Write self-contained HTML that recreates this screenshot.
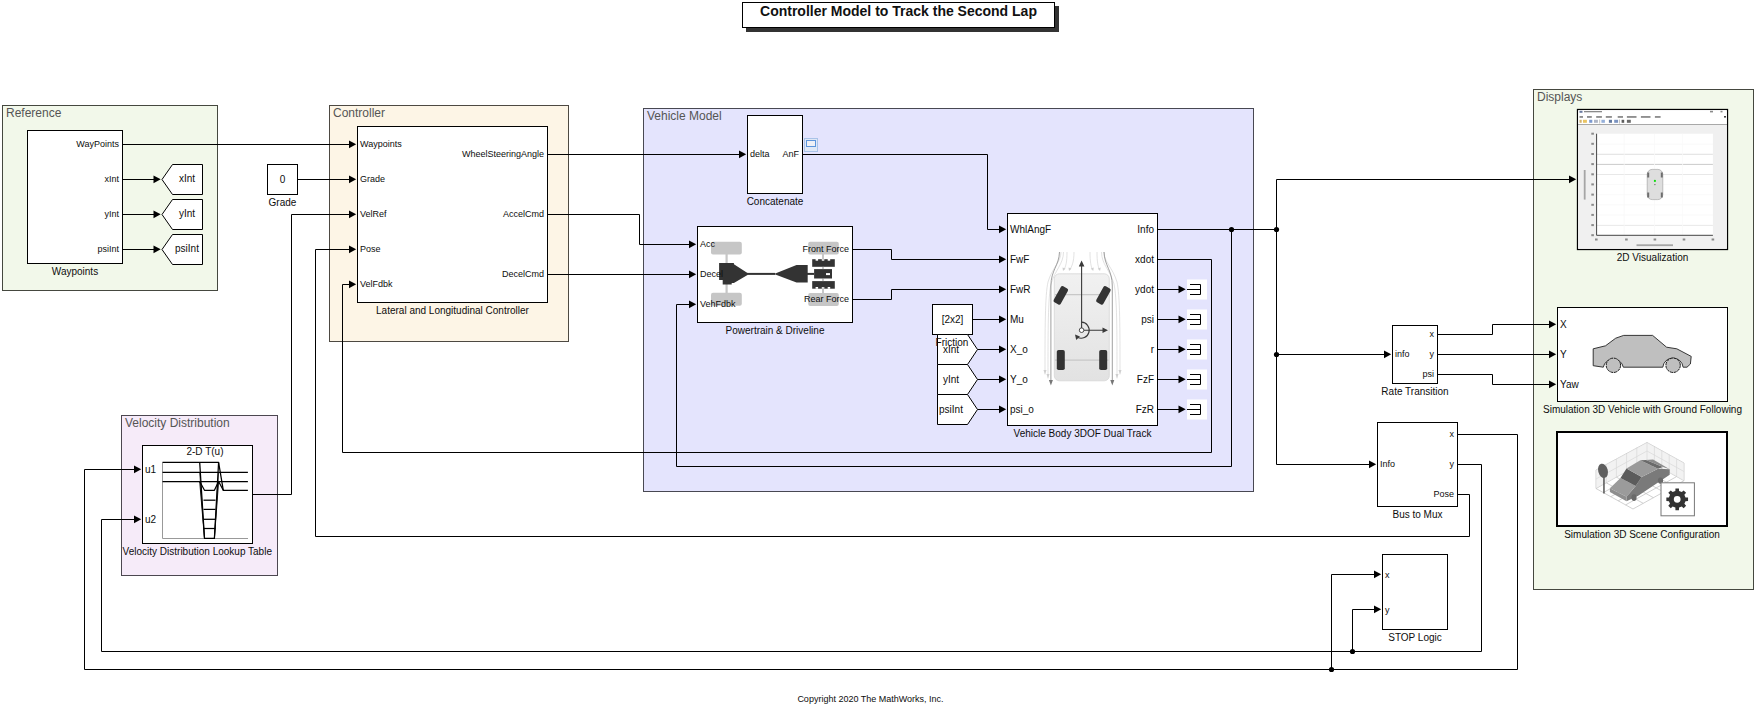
<!DOCTYPE html><html><head><meta charset="utf-8"><style>html,body{margin:0;padding:0;background:#fff;width:1755px;height:707px;overflow:hidden}svg{display:block}text{font-family:"Liberation Sans",sans-serif}</style></head><body>
<svg width="1755" height="707" viewBox="0 0 1755 707">
<rect x="746.5" y="6.5" width="312.0" height="25.0" fill="#333" stroke="#333" stroke-width="1" />
<rect x="742.5" y="2.5" width="312.0" height="25.0" fill="#fff" stroke="#000" stroke-width="1" />
<text x="898.5" y="15.5" font-size="14" text-anchor="middle" fill="#111" font-weight="bold" >Controller Model to Track the Second Lap</text>
<rect x="2.5" y="105.5" width="215.0" height="185.0" fill="#f2f8ea" stroke="#45483f" stroke-width="1" />
<text x="6.0" y="116.7" font-size="12" text-anchor="start" fill="#555" font-weight="normal" >Reference</text>
<rect x="329.5" y="105.5" width="239.0" height="236.0" fill="#fdf5e6" stroke="#4d4942" stroke-width="1" />
<text x="333.0" y="116.7" font-size="12" text-anchor="start" fill="#555" font-weight="normal" >Controller</text>
<rect x="643.5" y="108.5" width="610.0" height="383.0" fill="#e4e4fd" stroke="#484852" stroke-width="1" />
<text x="647.0" y="119.7" font-size="12" text-anchor="start" fill="#555" font-weight="normal" >Vehicle Model</text>
<rect x="1533.5" y="89.5" width="220.0" height="500.0" fill="#f2f8ea" stroke="#45483f" stroke-width="1" />
<text x="1537.0" y="100.7" font-size="12" text-anchor="start" fill="#555" font-weight="normal" >Displays</text>
<rect x="121.5" y="415.5" width="156.0" height="160.0" fill="#f6ebf9" stroke="#4c4750" stroke-width="1" />
<text x="125.0" y="426.7" font-size="12" text-anchor="start" fill="#555" font-weight="normal" >Velocity Distribution</text>
<path d="M122.5 144.5 L349.5 144.5" fill="none" stroke="#000" stroke-width="1"/>
<path d="M356.2 144.3 L349.0 140.4 L349.0 148.2 Z" fill="#000"/>
<path d="M122.5 179.5 L154 179.5" fill="none" stroke="#000" stroke-width="1"/>
<path d="M160.7 179.3 L153.5 175.4 L153.5 183.2 Z" fill="#000"/>
<path d="M122.5 214.5 L154 214.5" fill="none" stroke="#000" stroke-width="1"/>
<path d="M160.7 214.3 L153.5 210.4 L153.5 218.2 Z" fill="#000"/>
<path d="M122.5 249.5 L154 249.5" fill="none" stroke="#000" stroke-width="1"/>
<path d="M160.7 249.3 L153.5 245.4 L153.5 253.2 Z" fill="#000"/>
<path d="M297.5 179.5 L349.5 179.5" fill="none" stroke="#000" stroke-width="1"/>
<path d="M356.2 179.3 L349.0 175.4 L349.0 183.2 Z" fill="#000"/>
<path d="M252.5 494.5 L291.5 494.5 L291.5 214.5 L349.5 214.5" fill="none" stroke="#000" stroke-width="1"/>
<path d="M356.2 214.3 L349.0 210.4 L349.0 218.2 Z" fill="#000"/>
<path d="M1457.5 494.5 L1469.5 494.5 L1469.5 536.5 L315.5 536.5 L315.5 249.5 L349.5 249.5" fill="none" stroke="#000" stroke-width="1"/>
<path d="M356.2 249.3 L349.0 245.4 L349.0 253.2 Z" fill="#000"/>
<path d="M1157.5 259.5 L1211.5 259.5 L1211.5 452.5 L342.5 452.5 L342.5 284.5 L349.5 284.5" fill="none" stroke="#000" stroke-width="1"/>
<path d="M356.2 284.3 L349.0 280.4 L349.0 288.2 Z" fill="#000"/>
<path d="M547.5 154.5 L739.5 154.5" fill="none" stroke="#000" stroke-width="1"/>
<path d="M746.2 154.3 L739.0 150.4 L739.0 158.2 Z" fill="#000"/>
<path d="M547.5 214.5 L639.5 214.5 L639.5 244.5 L689.5 244.5" fill="none" stroke="#000" stroke-width="1"/>
<path d="M696.2 244.3 L689.0 240.4 L689.0 248.2 Z" fill="#000"/>
<path d="M547.5 274.5 L689.5 274.5" fill="none" stroke="#000" stroke-width="1"/>
<path d="M696.2 274.3 L689.0 270.4 L689.0 278.2 Z" fill="#000"/>
<path d="M802.5 154.5 L987.5 154.5 L987.5 229.5 L999.5 229.5" fill="none" stroke="#000" stroke-width="1"/>
<path d="M1006.2 229.3 L999.0 225.4 L999.0 233.2 Z" fill="#000"/>
<path d="M852.5 249.5 L891.5 249.5 L891.5 259.5 L999.5 259.5" fill="none" stroke="#000" stroke-width="1"/>
<path d="M1006.2 259.3 L999.0 255.4 L999.0 263.2 Z" fill="#000"/>
<path d="M852.5 299.5 L891.5 299.5 L891.5 289.5 L999.5 289.5" fill="none" stroke="#000" stroke-width="1"/>
<path d="M1006.2 289.3 L999.0 285.4 L999.0 293.2 Z" fill="#000"/>
<path d="M972.5 319.5 L999.5 319.5" fill="none" stroke="#000" stroke-width="1"/>
<path d="M1006.2 319.3 L999.0 315.4 L999.0 323.2 Z" fill="#000"/>
<path d="M977.5 349.5 L999.5 349.5" fill="none" stroke="#000" stroke-width="1"/>
<path d="M1006.2 349.3 L999.0 345.4 L999.0 353.2 Z" fill="#000"/>
<path d="M977.5 379.5 L999.5 379.5" fill="none" stroke="#000" stroke-width="1"/>
<path d="M1006.2 379.3 L999.0 375.4 L999.0 383.2 Z" fill="#000"/>
<path d="M977.5 409.5 L999.5 409.5" fill="none" stroke="#000" stroke-width="1"/>
<path d="M1006.2 409.3 L999.0 405.4 L999.0 413.2 Z" fill="#000"/>
<path d="M1157.5 289.5 L1179 289.5" fill="none" stroke="#000" stroke-width="1"/>
<path d="M1185.7 289.3 L1178.5 285.4 L1178.5 293.2 Z" fill="#000"/>
<path d="M1157.5 319.5 L1179 319.5" fill="none" stroke="#000" stroke-width="1"/>
<path d="M1185.7 319.3 L1178.5 315.4 L1178.5 323.2 Z" fill="#000"/>
<path d="M1157.5 349.5 L1179 349.5" fill="none" stroke="#000" stroke-width="1"/>
<path d="M1185.7 349.3 L1178.5 345.4 L1178.5 353.2 Z" fill="#000"/>
<path d="M1157.5 379.5 L1179 379.5" fill="none" stroke="#000" stroke-width="1"/>
<path d="M1185.7 379.3 L1178.5 375.4 L1178.5 383.2 Z" fill="#000"/>
<path d="M1157.5 409.5 L1179 409.5" fill="none" stroke="#000" stroke-width="1"/>
<path d="M1185.7 409.3 L1178.5 405.4 L1178.5 413.2 Z" fill="#000"/>
<path d="M1157.5 229.5 L1276.5 229.5" fill="none" stroke="#000" stroke-width="1"/>
<path d="M1276.5 464.5 L1276.5 179.5 L1569.5 179.5" fill="none" stroke="#000" stroke-width="1"/>
<path d="M1576.2 179.3 L1569.0 175.4 L1569.0 183.2 Z" fill="#000"/>
<path d="M1276.5 354.5 L1384.5 354.5" fill="none" stroke="#000" stroke-width="1"/>
<path d="M1391.2 354.3 L1384.0 350.4 L1384.0 358.2 Z" fill="#000"/>
<path d="M1276.5 464.5 L1369.5 464.5" fill="none" stroke="#000" stroke-width="1"/>
<path d="M1376.2 464.3 L1369.0 460.4 L1369.0 468.2 Z" fill="#000"/>
<circle cx="1231.5" cy="229.5" r="2.6" fill="#000"/>
<circle cx="1276.5" cy="229.5" r="2.6" fill="#000"/>
<circle cx="1276.5" cy="354.5" r="2.6" fill="#000"/>
<path d="M1231.5 229.5 L1231.5 466.5 L676.5 466.5 L676.5 304.5 L689.5 304.5" fill="none" stroke="#000" stroke-width="1"/>
<path d="M696.2 304.3 L689.0 300.4 L689.0 308.2 Z" fill="#000"/>
<path d="M1437.5 334.5 L1492.5 334.5 L1492.5 324.5 L1549.5 324.5" fill="none" stroke="#000" stroke-width="1"/>
<path d="M1556.2 324.3 L1549.0 320.4 L1549.0 328.2 Z" fill="#000"/>
<path d="M1437.5 354.5 L1549.5 354.5" fill="none" stroke="#000" stroke-width="1"/>
<path d="M1556.2 354.3 L1549.0 350.4 L1549.0 358.2 Z" fill="#000"/>
<path d="M1437.5 374.5 L1492.5 374.5 L1492.5 384.5 L1549.5 384.5" fill="none" stroke="#000" stroke-width="1"/>
<path d="M1556.2 384.3 L1549.0 380.4 L1549.0 388.2 Z" fill="#000"/>
<path d="M1457.5 434.5 L1517.5 434.5 L1517.5 669.5 L84.5 669.5 L84.5 469.5 L134.5 469.5" fill="none" stroke="#000" stroke-width="1"/>
<path d="M141.2 469.3 L134.0 465.4 L134.0 473.2 Z" fill="#000"/>
<path d="M1331.5 669.5 L1331.5 574.5 L1374.5 574.5" fill="none" stroke="#000" stroke-width="1"/>
<path d="M1381.2 574.3 L1374.0 570.4 L1374.0 578.2 Z" fill="#000"/>
<circle cx="1331.5" cy="669.5" r="2.6" fill="#000"/>
<path d="M1457.5 464.5 L1481.5 464.5 L1481.5 651.5 L101.5 651.5 L101.5 519.5 L134.5 519.5" fill="none" stroke="#000" stroke-width="1"/>
<path d="M141.2 519.3 L134.0 515.4 L134.0 523.2 Z" fill="#000"/>
<path d="M1352.5 651.5 L1352.5 609.5 L1374.5 609.5" fill="none" stroke="#000" stroke-width="1"/>
<path d="M1381.2 609.3 L1374.0 605.4 L1374.0 613.2 Z" fill="#000"/>
<circle cx="1352.5" cy="651.5" r="2.6" fill="#000"/>
<rect x="27.5" y="130.5" width="95.0" height="133.0" fill="#fff" stroke="#000" stroke-width="1" />
<text x="119" y="146.5" font-size="9" text-anchor="end" fill="#0d0d0d" font-weight="normal" >WayPoints</text>
<text x="119" y="181.5" font-size="9" text-anchor="end" fill="#0d0d0d" font-weight="normal" >xInt</text>
<text x="119" y="216.5" font-size="9" text-anchor="end" fill="#0d0d0d" font-weight="normal" >yInt</text>
<text x="119" y="251.5" font-size="9" text-anchor="end" fill="#0d0d0d" font-weight="normal" >psiInt</text>
<text x="75" y="275" font-size="10" text-anchor="middle" fill="#0d0d0d" font-weight="normal" >Waypoints</text>
<path d="M162 179.5 L172.5 164.5 L202.5 164.5 L202.5 194.5 L172.5 194.5 Z" fill="#fff" stroke="#000"/>
<text x="187" y="182.0" font-size="10" text-anchor="middle" fill="#0d0d0d" font-weight="normal" >xInt</text>
<path d="M162 214.5 L172.5 199.5 L202.5 199.5 L202.5 229.5 L172.5 229.5 Z" fill="#fff" stroke="#000"/>
<text x="187" y="217.0" font-size="10" text-anchor="middle" fill="#0d0d0d" font-weight="normal" >yInt</text>
<path d="M162 249.5 L172.5 234.5 L202.5 234.5 L202.5 264.5 L172.5 264.5 Z" fill="#fff" stroke="#000"/>
<text x="187" y="252.0" font-size="10" text-anchor="middle" fill="#0d0d0d" font-weight="normal" >psiInt</text>
<rect x="267.5" y="164.5" width="30.0" height="30.0" fill="#fff" stroke="#000" stroke-width="1" />
<text x="282.5" y="183" font-size="10" text-anchor="middle" fill="#0d0d0d" font-weight="normal" >0</text>
<text x="282.5" y="206" font-size="10" text-anchor="middle" fill="#0d0d0d" font-weight="normal" >Grade</text>
<rect x="357.5" y="126.5" width="190.0" height="176.0" fill="#fff" stroke="#000" stroke-width="1" />
<text x="360" y="146.5" font-size="9" text-anchor="start" fill="#0d0d0d" font-weight="normal" >Waypoints</text>
<text x="360" y="181.5" font-size="9" text-anchor="start" fill="#0d0d0d" font-weight="normal" >Grade</text>
<text x="360" y="216.5" font-size="9" text-anchor="start" fill="#0d0d0d" font-weight="normal" >VelRef</text>
<text x="360" y="251.5" font-size="9" text-anchor="start" fill="#0d0d0d" font-weight="normal" >Pose</text>
<text x="360" y="286.5" font-size="9" text-anchor="start" fill="#0d0d0d" font-weight="normal" >VelFdbk</text>
<text x="544" y="156.5" font-size="9" text-anchor="end" fill="#0d0d0d" font-weight="normal" >WheelSteeringAngle</text>
<text x="544" y="216.5" font-size="9" text-anchor="end" fill="#0d0d0d" font-weight="normal" >AccelCmd</text>
<text x="544" y="276.5" font-size="9" text-anchor="end" fill="#0d0d0d" font-weight="normal" >DecelCmd</text>
<text x="452.5" y="314" font-size="10" text-anchor="middle" fill="#0d0d0d" font-weight="normal" >Lateral and Longitudinal Controller</text>
<rect x="747.5" y="115.5" width="55.0" height="78.0" fill="#fff" stroke="#000" stroke-width="1" />
<text x="750" y="156.5" font-size="9" text-anchor="start" fill="#0d0d0d" font-weight="normal" >delta</text>
<text x="799" y="156.5" font-size="9" text-anchor="end" fill="#0d0d0d" font-weight="normal" >AnF</text>
<text x="775" y="205" font-size="10" text-anchor="middle" fill="#0d0d0d" font-weight="normal" >Concatenate</text>
<rect x="804.5" y="138.5" width="13.0" height="13.0" fill="#dfe8f6" stroke="#a9c3e8" stroke-width="1" />
<rect x="806.5" y="140.5" width="9.0" height="6.0" fill="#eef0f6" stroke="#5d95dc" stroke-width="1" />
<rect x="697.5" y="226.5" width="155.0" height="96.0" fill="#fff" stroke="#000" stroke-width="1" />
<g fill="#c6c6c6">
<rect x="711" y="241.8" width="30.8" height="12.7" rx="2"/>
<rect x="711" y="292.8" width="30.8" height="13" rx="2"/>
<rect x="725.5" y="254" width="2.2" height="39"/>
<rect x="808.2" y="241.8" width="30.6" height="12.7" rx="2"/>
<rect x="808.2" y="293" width="30.6" height="13" rx="2"/>
<rect x="822" y="254" width="2" height="39"/>
</g>
<g fill="#333">
<path d="M719.1 263.1 L733.9 263.1 L733.9 264.3 L747.5 272.9 L747.5 274.9 L733.9 283 L731.7 283 L731.7 284.5 L722.7 284.5 L722.7 279.9 L719.1 279.9 Z"/>
<rect x="747" y="272.9" width="28" height="2"/>
<path d="M774 273.9 L796.5 265 L807.7 265 L807.7 282.5 L796.5 282.5 Z"/>
<rect x="807" y="272.9" width="7" height="2"/>
<rect x="812.2" y="259.2" width="22.6" height="7.6"/>
<rect x="814.1" y="269.1" width="17.9" height="9.4"/>
<rect x="812.2" y="281.1" width="22.6" height="7.6"/>
</g>
<rect x="826" y="273.1" width="4" height="2" fill="#fff"/>
<g fill="#fff"><rect x="815.6" y="259" width="2.5" height="1.7"/><rect x="821.8" y="259" width="2.5" height="1.7"/><rect x="827.7" y="259" width="2.5" height="1.7"/>
<rect x="815.6" y="287" width="2.5" height="1.8"/><rect x="821.8" y="287" width="2.5" height="1.8"/><rect x="827.7" y="287" width="2.5" height="1.8"/></g>
<g fill="#c6c6c6"><rect x="822.4" y="259" width="1.4" height="1.7"/><rect x="822.4" y="287" width="1.4" height="1.8"/><rect x="822.4" y="266.8" width="1.4" height="2.3"/><rect x="822.4" y="278.6" width="1.4" height="2.5"/></g>
<text x="700" y="246.5" font-size="9" text-anchor="start" fill="#0d0d0d" font-weight="normal" >Acc</text>
<text x="700" y="276.5" font-size="9" text-anchor="start" fill="#0d0d0d" font-weight="normal" >Decel</text>
<text x="700" y="306.5" font-size="9" text-anchor="start" fill="#0d0d0d" font-weight="normal" >VehFdbk</text>
<text x="849" y="251.5" font-size="9" text-anchor="end" fill="#0d0d0d" font-weight="normal" >Front Force</text>
<text x="849" y="301.5" font-size="9" text-anchor="end" fill="#0d0d0d" font-weight="normal" >Rear Force</text>
<text x="775" y="334" font-size="10" text-anchor="middle" fill="#0d0d0d" font-weight="normal" >Powertrain &amp; Driveline</text>
<rect x="932.5" y="304.5" width="40.0" height="30.0" fill="#fff" stroke="#000" stroke-width="1" />
<text x="952.5" y="322.5" font-size="10" text-anchor="middle" fill="#0d0d0d" font-weight="normal" >[2x2]</text>
<path d="M937.5 334.5 L967.5 334.5 L977.5 349.5 L967.5 364.5 L937.5 364.5 Z" fill="#fff" stroke="#000"/>
<text x="951" y="353.0" font-size="10" text-anchor="middle" fill="#0d0d0d" font-weight="normal" >xInt</text>
<path d="M937.5 364.5 L967.5 364.5 L977.5 379.5 L967.5 394.5 L937.5 394.5 Z" fill="#fff" stroke="#000"/>
<text x="951" y="383.0" font-size="10" text-anchor="middle" fill="#0d0d0d" font-weight="normal" >yInt</text>
<path d="M937.5 394.5 L967.5 394.5 L977.5 409.5 L967.5 424.5 L937.5 424.5 Z" fill="#fff" stroke="#000"/>
<text x="951" y="413.0" font-size="10" text-anchor="middle" fill="#0d0d0d" font-weight="normal" >psiInt</text>
<text x="952" y="346" font-size="10" text-anchor="middle" fill="#0d0d0d" font-weight="normal" >Friction</text>
<rect x="1007.5" y="213.5" width="150.0" height="212.0" fill="#fff" stroke="#000" stroke-width="1" />
<text x="1010" y="232.5" font-size="10" text-anchor="start" fill="#0d0d0d" font-weight="normal" >WhlAngF</text>
<text x="1010" y="262.5" font-size="10" text-anchor="start" fill="#0d0d0d" font-weight="normal" >FwF</text>
<text x="1010" y="292.5" font-size="10" text-anchor="start" fill="#0d0d0d" font-weight="normal" >FwR</text>
<text x="1010" y="322.5" font-size="10" text-anchor="start" fill="#0d0d0d" font-weight="normal" >Mu</text>
<text x="1010" y="352.5" font-size="10" text-anchor="start" fill="#0d0d0d" font-weight="normal" >X_o</text>
<text x="1010" y="382.5" font-size="10" text-anchor="start" fill="#0d0d0d" font-weight="normal" >Y_o</text>
<text x="1010" y="412.5" font-size="10" text-anchor="start" fill="#0d0d0d" font-weight="normal" >psi_o</text>
<text x="1154" y="232.5" font-size="10" text-anchor="end" fill="#0d0d0d" font-weight="normal" >Info</text>
<text x="1154" y="262.5" font-size="10" text-anchor="end" fill="#0d0d0d" font-weight="normal" >xdot</text>
<text x="1154" y="292.5" font-size="10" text-anchor="end" fill="#0d0d0d" font-weight="normal" >ydot</text>
<text x="1154" y="322.5" font-size="10" text-anchor="end" fill="#0d0d0d" font-weight="normal" >psi</text>
<text x="1154" y="352.5" font-size="10" text-anchor="end" fill="#0d0d0d" font-weight="normal" >r</text>
<text x="1154" y="382.5" font-size="10" text-anchor="end" fill="#0d0d0d" font-weight="normal" >FzF</text>
<text x="1154" y="412.5" font-size="10" text-anchor="end" fill="#0d0d0d" font-weight="normal" >FzR</text>
<text x="1082.5" y="437" font-size="10" text-anchor="middle" fill="#0d0d0d" font-weight="normal" >Vehicle Body 3DOF Dual Track</text>
<defs><linearGradient id="cg" x1="0" y1="0" x2="0" y2="1"><stop offset="0" stop-color="#f1f1f1"/><stop offset="1" stop-color="#e2e2e2"/></linearGradient></defs>
<g>
<g fill="none" stroke="#cfcfcf" stroke-width="0.6">
<path d="M1061 252 C1061 262 1052 268 1048 282 C1045 295 1045 330 1045 372"/>
<path d="M1063.5 252 C1063.5 264 1055 270 1051 284 C1048 298 1048 330 1048 376"/>
<path d="M1104 252 C1104 262 1113 268 1117 282 C1120 295 1120 330 1120 372"/>
<path d="M1101.5 252 C1101.5 264 1110 270 1114 284 C1117 298 1117 330 1117 376"/>
<path d="M1067 252 C1067 262 1066 266 1063.8 270"/>
<path d="M1074 252 C1074 262 1072 266 1069.7 270"/>
<path d="M1090 252 C1090 262 1091 266 1092.5 270"/>
<path d="M1097 252 C1097 262 1098 266 1099.4 270"/>
</g>
<g fill="#cfcfcf"><path d="M1063 271 L1062.5 267.5 L1065.5 268.5 Z"/><path d="M1069 271 L1068.5 267.5 L1071.5 268.5 Z"/><path d="M1093.2 271 L1090.8 268.5 L1093.8 267.5 Z"/><path d="M1100 271 L1097.8 268.5 L1100.8 267.5 Z"/>
<path d="M1045 375 L1043.5 370 L1046.5 370 Z"/><path d="M1048 379 L1046.5 374 L1049.5 374 Z"/><path d="M1120 375 L1118.5 370 L1121.5 370 Z"/><path d="M1117 379 L1115.5 374 L1118.5 374 Z"/></g>
<rect x="1054.3" y="273.8" width="55" height="107" rx="5" fill="url(#cg)" stroke="#d6d6d6" stroke-width="0.8"/>
<path d="M1055 294.6 L1108.5 294.6 M1055 360.2 L1108.5 360.2" stroke="#c8c8c8" stroke-width="1.2"/>
<rect x="1056.8" y="286.3" width="8" height="18.2" rx="1.8" fill="#333" transform="rotate(29 1060.8 295.4)"/>
<rect x="1099.4" y="286.3" width="8" height="18.2" rx="1.8" fill="#333" transform="rotate(29 1103.4 295.4)"/>
<rect x="1056.8" y="350" width="8" height="20" rx="1.8" fill="#333"/>
<rect x="1099.2" y="350" width="8" height="20" rx="1.8" fill="#333"/>
<path d="M1059.5 252 C1059 266 1050.9 270 1050.9 286 L1050.9 383 M1104 252 C1104.5 266 1112.3 270 1112.3 286 L1112.3 383" stroke="#888" stroke-width="0.8" fill="none"/>
<path d="M1048.9 380 L1050.9 385.5 L1052.9 380 Z M1110.3 380 L1112.3 385.5 L1114.3 380 Z" fill="#777"/>
<path d="M1081.6 265 L1081.6 330.2 L1103 330.2" stroke="#3a3a3a" stroke-width="1.1" fill="none"/>
<path d="M1081.6 260.5 L1078.8 266.5 L1084.4 266.5 Z M1108 330.2 L1102.5 327.4 L1102.5 333 Z" fill="#3a3a3a"/>
<path d="M1081.6 322.2 A8 8 0 1 1 1077.5 337.3" stroke="#3a3a3a" stroke-width="1.2" fill="none"/>
<path d="M1075 334.5 L1076.2 340 L1080 336.5 Z" fill="#3a3a3a"/>
<circle cx="1081.6" cy="330.2" r="2.3" stroke="#3a3a3a" stroke-width="0.9" fill="#fff"/>
</g>
<rect x="1187" y="279.5" width="20" height="20" fill="#fff"/>
<path d="M1190 284.5 L1200.5 284.5 L1200.5 294.5 L1190 294.5 M1187 289.5 L1200.5 289.5" stroke="#000" fill="none"/>
<rect x="1187" y="309.5" width="20" height="20" fill="#fff"/>
<path d="M1190 314.5 L1200.5 314.5 L1200.5 324.5 L1190 324.5 M1187 319.5 L1200.5 319.5" stroke="#000" fill="none"/>
<rect x="1187" y="339.5" width="20" height="20" fill="#fff"/>
<path d="M1190 344.5 L1200.5 344.5 L1200.5 354.5 L1190 354.5 M1187 349.5 L1200.5 349.5" stroke="#000" fill="none"/>
<rect x="1187" y="369.5" width="20" height="20" fill="#fff"/>
<path d="M1190 374.5 L1200.5 374.5 L1200.5 384.5 L1190 384.5 M1187 379.5 L1200.5 379.5" stroke="#000" fill="none"/>
<rect x="1187" y="399.5" width="20" height="20" fill="#fff"/>
<path d="M1190 404.5 L1200.5 404.5 L1200.5 414.5 L1190 414.5 M1187 409.5 L1200.5 409.5" stroke="#000" fill="none"/>
<rect x="1577.5" y="109.5" width="150.0" height="140.0" fill="#fff" stroke="#000" stroke-width="1.3" />
<rect x="1578.2" y="110.2" width="148.6" height="14" fill="#fff"/>
<rect x="1578.2" y="124.5" width="148.6" height="124.3" fill="#f0f0f0"/>
<path d="M1578 124.5 L1727 124.5" stroke="#a8a8a8"/>
<g fill="#8a8a8a"><rect x="1579.5" y="110.8" width="3" height="2" fill="#6a7aa0"/><rect x="1584" y="111" width="18" height="1.3"/><rect x="1710" y="110.8" width="3" height="1.6"/><rect x="1720.5" y="110.8" width="2" height="1.6"/></g>
<g fill="#444">
<rect x="1579.5" y="116.2" width="3.5" height="1.5" opacity="0.75"/>
<rect x="1587.0" y="116.2" width="4.8" height="1.5" opacity="0.75"/>
<rect x="1596.2" y="116.2" width="5.7" height="1.5" opacity="0.75"/>
<rect x="1605.8" y="116.2" width="6.1" height="1.5" opacity="0.75"/>
<rect x="1617.7" y="116.2" width="5.3" height="1.5" opacity="0.75"/>
<rect x="1626.9" y="116.2" width="9.6" height="1.5" opacity="0.75"/>
<rect x="1640.9" y="116.2" width="9.6" height="1.5" opacity="0.75"/>
<rect x="1654.9" y="116.2" width="5.7" height="1.5" opacity="0.75"/>
<rect x="1724" y="116" width="2" height="1.6"/>
</g>
<g>
<rect x="1579.5" y="119.8" width="2.2" height="3" fill="#c9a04a" opacity="0.8"/>
<rect x="1583.0" y="119.8" width="3.9" height="3" fill="#e3b53c" opacity="0.8"/>
<rect x="1589.2" y="119.8" width="3.1" height="3" fill="#5b7fc4" opacity="0.8"/>
<rect x="1594.0" y="119.8" width="3.9" height="3" fill="#9aa3b8" opacity="0.8"/>
<rect x="1601.4" y="119.8" width="3.5" height="3" fill="#7b9bd0" opacity="0.8"/>
<rect x="1608.9" y="119.8" width="3.1" height="3" fill="#3d5a8a" opacity="0.8"/>
<rect x="1614.2" y="119.8" width="3.9" height="3" fill="#5a78b0" opacity="0.8"/>
<rect x="1621.6" y="119.8" width="2.6" height="3" fill="#333" opacity="0.8"/>
<rect x="1626.9" y="119.8" width="3.9" height="3" fill="#444" opacity="0.8"/>
<rect x="1599.5" y="119.5" width="0.6" height="4" fill="#999"/><rect x="1619" y="119.5" width="0.6" height="4" fill="#999"/>
</g>
<rect x="1596.3" y="133.7" width="116.6" height="101.5" fill="#fff"/>
<g stroke-width="0.8">
<path d="M1596.5 154.3 L1712.9 154.3" stroke="#d8d8d8"/>
<path d="M1596.5 164.4 L1712.9 164.4" stroke="#bcbcbc"/>
<path d="M1596.5 174.5 L1712.9 174.5" stroke="#e2e2e2"/>
<path d="M1596.5 225.4 L1712.9 225.4" stroke="#e2e2e2"/>
<path d="M1596.5 144.2 L1712.9 144.2" stroke="#f8f8f8"/>
<path d="M1596.5 184.6 L1712.9 184.6" stroke="#f8f8f8"/>
<path d="M1596.5 194.7 L1712.9 194.7" stroke="#f8f8f8"/>
<path d="M1596.5 204.8 L1712.9 204.8" stroke="#f8f8f8"/>
<path d="M1596.5 215 L1712.9 215" stroke="#f8f8f8"/>
<path d="M1624.2 133.7 L1624.2 235" stroke="#f9f9f9"/>
<path d="M1654.5 133.7 L1654.5 235" stroke="#f9f9f9"/>
<path d="M1682.6 133.7 L1682.6 235" stroke="#f9f9f9"/>
</g>
<path d="M1596.6 133.7 L1596.6 235.3 L1712.9 235.3" stroke="#444" stroke-width="1" fill="none"/>
<g fill="#8a8a8a">
<rect x="1591.3" y="132.7" width="2.6" height="2"/>
<rect x="1591.3" y="142.8" width="2.6" height="2"/>
<rect x="1591.3" y="153.0" width="2.6" height="2"/>
<rect x="1591.3" y="163.1" width="2.6" height="2"/>
<rect x="1591.3" y="173.3" width="2.6" height="2"/>
<rect x="1591.3" y="183.4" width="2.6" height="2"/>
<rect x="1591.3" y="193.6" width="2.6" height="2"/>
<rect x="1591.3" y="203.8" width="2.6" height="2"/>
<rect x="1591.3" y="213.9" width="2.6" height="2"/>
<rect x="1591.3" y="224.1" width="2.6" height="2"/>
<rect x="1591.3" y="234.2" width="2.6" height="2"/>
<rect x="1595.0" y="238.5" width="2.6" height="2"/>
<rect x="1625.1" y="238.5" width="2.6" height="2"/>
<rect x="1653.6" y="238.5" width="2.6" height="2"/>
<rect x="1682.7" y="238.5" width="2.6" height="2"/>
<rect x="1711.6" y="238.5" width="2.6" height="2"/>
</g>
<g fill="#6a6a6a"><rect x="1636.5" y="244.3" width="36.5" height="1.8" opacity="0.55"/>
<rect x="1583.8" y="170" width="1.8" height="29.6" opacity="0.55"/></g>
<rect x="1647.2" y="169.4" width="15.6" height="30.2" rx="5" fill="#dedede" stroke="#9a9a9a" stroke-width="0.6"/>
<g fill="#6e6e6e"><rect x="1647.2" y="172.5" width="2" height="5"/><rect x="1660.8" y="172.5" width="2" height="5"/><rect x="1647.2" y="192.5" width="2" height="5"/><rect x="1660.8" y="192.5" width="2" height="5"/></g>
<circle cx="1654.9" cy="180.9" r="1.1" fill="#1d1"/>
<circle cx="1654.9" cy="184.6" r="0.7" fill="#666"/>
<text x="1652.5" y="261" font-size="10" text-anchor="middle" fill="#0d0d0d" font-weight="normal" >2D Visualization</text>
<rect x="1392.5" y="325.5" width="45.0" height="58.0" fill="#fff" stroke="#000" stroke-width="1" />
<text x="1395" y="356.5" font-size="9" text-anchor="start" fill="#0d0d0d" font-weight="normal" >info</text>
<text x="1434" y="336.5" font-size="9" text-anchor="end" fill="#0d0d0d" font-weight="normal" >x</text>
<text x="1434" y="356.5" font-size="9" text-anchor="end" fill="#0d0d0d" font-weight="normal" >y</text>
<text x="1434" y="376.5" font-size="9" text-anchor="end" fill="#0d0d0d" font-weight="normal" >psi</text>
<text x="1415" y="395" font-size="10" text-anchor="middle" fill="#0d0d0d" font-weight="normal" >Rate Transition</text>
<rect x="1557.5" y="307.5" width="170.0" height="94.0" fill="#fff" stroke="#000" stroke-width="1" />
<text x="1560" y="328.0" font-size="10" text-anchor="start" fill="#0d0d0d" font-weight="normal" >X</text>
<text x="1560" y="358.0" font-size="10" text-anchor="start" fill="#0d0d0d" font-weight="normal" >Y</text>
<text x="1560" y="388.0" font-size="10" text-anchor="start" fill="#0d0d0d" font-weight="normal" >Yaw</text>
<path d="M1593.2 365.7 L1593.2 348.8 L1605.5 345.8 L1615.7 338.2 L1623.7 335.4 L1652.6 335.4 L1666.6 347.2 L1676.8 348.8 L1691.2 356.4 L1690.4 364 L1687 367.2 L1683.1 367.2 A10.2 10.2 0 0 0 1662.8 367.2 L1623.3 367.2 A10.2 10.2 0 0 0 1603.3 367.2 Z" fill="#bfbfbf" stroke="#222" stroke-width="0.9"/>
<circle cx="1613.4" cy="365.3" r="7.2" fill="#bfbfbf" stroke="#1a1a1a" stroke-width="1" stroke-dasharray="3 0.8"/>
<circle cx="1673.1" cy="365.3" r="7.2" fill="#bfbfbf" stroke="#1a1a1a" stroke-width="1" stroke-dasharray="3 0.8"/>
<text x="1642.5" y="413" font-size="10" text-anchor="middle" fill="#0d0d0d" font-weight="normal" >Simulation 3D Vehicle with Ground Following</text>
<rect x="1377.5" y="422.5" width="80.0" height="84.0" fill="#fff" stroke="#000" stroke-width="1" />
<text x="1380" y="466.5" font-size="9" text-anchor="start" fill="#0d0d0d" font-weight="normal" >Info</text>
<text x="1454" y="436.5" font-size="9" text-anchor="end" fill="#0d0d0d" font-weight="normal" >x</text>
<text x="1454" y="466.5" font-size="9" text-anchor="end" fill="#0d0d0d" font-weight="normal" >y</text>
<text x="1454" y="496.5" font-size="9" text-anchor="end" fill="#0d0d0d" font-weight="normal" >Pose</text>
<text x="1417.5" y="518" font-size="10" text-anchor="middle" fill="#0d0d0d" font-weight="normal" >Bus to Mux</text>
<rect x="1557" y="432" width="170" height="94" fill="#fff" stroke="#000" stroke-width="2" />
<g stroke="#bdbdbd" stroke-width="0.7" fill="none">
<path d="M1596 488.5 L1633 509 L1684 480.7 L1647 460 Z"/>
<path d="M1596 488.5 L1596 470 L1647 442.5 L1647 460 M1647 442.5 L1684 463 L1684 480.7"/>
<path d="M1606.2 482.8 L1643.2 503.3"/>
<path d="M1603.4 492.6 L1654.4 464.1"/>
<path d="M1606.2 482.8 L1606.2 464.8"/>
<path d="M1654.4 464.1 L1654.4 446.6"/>
<path d="M1616.4 477.1 L1653.4 497.7"/>
<path d="M1610.8 496.7 L1661.8 468.3"/>
<path d="M1616.4 477.1 L1616.4 459.1"/>
<path d="M1661.8 468.3 L1661.8 450.8"/>
<path d="M1626.6 471.4 L1663.6 492.0"/>
<path d="M1618.2 500.8 L1669.2 472.4"/>
<path d="M1626.6 471.4 L1626.6 453.4"/>
<path d="M1669.2 472.4 L1669.2 454.9"/>
<path d="M1636.8 465.7 L1673.8 486.4"/>
<path d="M1625.6 504.9 L1676.6 476.6"/>
<path d="M1636.8 465.7 L1636.8 447.7"/>
<path d="M1676.6 476.6 L1676.6 459.1"/>
<path d="M1596 479 L1647 451 L1684 471.5"/>
</g>
<path d="M1596 470 L1647 442.5 L1647 460 L1596 488.5 Z M1647 442.5 L1684 463 L1684 480.7 L1647 460 Z" fill="#eaeaea" fill-opacity="0.6"/>
<rect x="1603.2" y="476" width="1.5" height="17.5" fill="#555"/>
<ellipse cx="1603" cy="470.8" rx="4.8" ry="7.3" fill="#5f5f5f" transform="rotate(-15 1603 470.8)"/>
<polygon points="1626.5,496.7 1635.7,486.1 1641.7,476.9 1658.0,468.8 1669.7,469.2 1669.7,474.8 1638.2,495.7 1626.5,501.3" fill="#7a7a7a"/>
<polygon points="1609.9,488.3 1620.5,478.0 1635.7,486.1 1626.5,496.7" fill="#9b9b9b"/>
<polygon points="1609.9,488.3 1626.5,496.7 1626.5,501.3 1609.9,492.1" fill="#8e8e8e"/>
<polygon points="1620.5,478.0 1626.5,468.4 1641.7,476.9 1635.7,486.1" fill="#5c5c5c"/>
<polygon points="1626.5,468.4 1640.3,460.3 1658.0,468.8 1641.7,476.9" fill="#9a9a9a"/>
<polygon points="1640.3,460.3 1646.0,460.0 1663.0,467.0 1658.0,468.8" fill="#6a6a6a"/>
<polygon points="1646.0,460.0 1653.1,459.6 1669.7,469.2 1663.0,467.0" fill="#8c8c8c"/>
<ellipse cx="1634" cy="497.6" rx="2.6" ry="3.4" fill="#6a6a6a"/><ellipse cx="1660.5" cy="480.6" rx="2.6" ry="3.2" fill="#6a6a6a"/>
<rect x="1661" y="482.8" width="33.4" height="33" fill="#fff" stroke="#777" stroke-width="1"/>
<path d="M1675.35 491.00 L1675.45 488.44 L1678.95 488.44 L1679.05 491.00 L1681.75 492.12 L1683.64 490.38 L1686.12 492.86 L1684.38 494.75 L1685.50 497.45 L1688.06 497.55 L1688.06 501.05 L1685.50 501.15 L1684.38 503.85 L1686.12 505.74 L1683.64 508.22 L1681.75 506.48 L1679.05 507.60 L1678.95 510.16 L1675.45 510.16 L1675.35 507.60 L1672.65 506.48 L1670.76 508.22 L1668.28 505.74 L1670.02 503.85 L1668.90 501.15 L1666.34 501.05 L1666.34 497.55 L1668.90 497.45 L1670.02 494.75 L1668.28 492.86 L1670.76 490.38 L1672.65 492.12 Z M1680.6000000000001 499.3 A3.4 3.4 0 1 0 1673.8 499.3 A3.4 3.4 0 1 0 1680.6000000000001 499.3 Z" fill="#333" fill-rule="evenodd"/>
<text x="1642" y="538" font-size="10" text-anchor="middle" fill="#0d0d0d" font-weight="normal" >Simulation 3D Scene Configuration</text>
<rect x="1382.5" y="554.5" width="65.0" height="75.0" fill="#fff" stroke="#000" stroke-width="1" />
<text x="1385" y="577.5" font-size="9" text-anchor="start" fill="#0d0d0d" font-weight="normal" >x</text>
<text x="1385" y="612.5" font-size="9" text-anchor="start" fill="#0d0d0d" font-weight="normal" >y</text>
<text x="1415" y="641" font-size="10" text-anchor="middle" fill="#0d0d0d" font-weight="normal" >STOP Logic</text>
<rect x="142.5" y="445.5" width="110.0" height="98.0" fill="#fff" stroke="#000" stroke-width="1" />
<text x="145" y="472.5" font-size="10" text-anchor="start" fill="#0d0d0d" font-weight="normal" >u1</text>
<text x="145" y="522.5" font-size="10" text-anchor="start" fill="#0d0d0d" font-weight="normal" >u2</text>
<text x="205" y="455" font-size="10" text-anchor="middle" fill="#0d0d0d" font-weight="normal" >2-D T(u)</text>
<path d="M162.5 462.5 L162.5 538.5 L248 538.5" stroke="#999" fill="none"/>
<g stroke="#000" stroke-width="1.25" fill="none" stroke-linejoin="round">
<path d="M162.5 462.4 L218.6 462.4 L223.3 490.3 L247.9 490.3"/>
<path d="M162.5 472.3 L247.9 472.3"/>
<path d="M162.5 481.5 L247.9 481.5"/>
<path d="M199.7 462.4 L204.5 538.4 L214.4 538.4 L218.6 462.4"/>
<path d="M199.7 481.5 L204.5 490.3 L214.4 490.3 L218.6 481.5 L223.3 490.3"/>
<path d="M199.7 481.5 L204.5 538.4 M218.6 481.5 L214.4 538.4" stroke-width="0.9"/>
<path d="M199.7 472.3 L204.5 538.4 M218.6 472.3 L214.4 538.4" stroke-width="0.7"/>
<path d="M203.5 500.2 L215.5 500.2"/>
<path d="M203.5 509.4 L215.5 509.4"/>
<path d="M203.5 519.3 L215.5 519.3"/>
<path d="M203.5 528.5 L215.5 528.5"/>
</g>
<text x="197.3" y="555" font-size="10" text-anchor="middle" fill="#0d0d0d" font-weight="normal" >Velocity Distribution Lookup Table</text>
<text x="870.5" y="701.8" font-size="9" text-anchor="middle" fill="#0d0d0d" font-weight="normal" >Copyright 2020 The MathWorks, Inc.</text>
</svg></body></html>
